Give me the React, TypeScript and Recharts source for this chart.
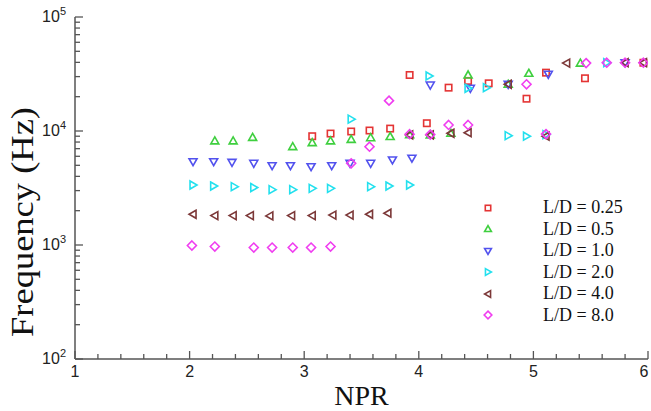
import React from 'react'
import { ScatterChart, Scatter, XAxis, YAxis, Legend, Label } from 'recharts'

// NPR positions and frequencies (Hz), one pair of arrays per L/D
const ld025Npr = [3.07, 3.23, 3.41, 3.57, 3.75, 3.92, 4.07, 4.26, 4.43, 4.61, 4.94, 5.11, 5.45, 5.96]
const ld025Freq = [9000, 9500, 9900, 10100, 10500, 31000, 11700, 24000, 27500, 26200, 19200, 32500, 29000, 39700]

const ld05Npr = [2.22, 2.38, 2.55, 2.9, 3.07, 3.23, 3.41, 3.58, 3.75, 3.92, 4.1, 4.28, 4.43, 4.78, 4.96, 5.41]
const ld05Freq = [8200, 8200, 8800, 7300, 7900, 8200, 8450, 8730, 8950, 9300, 9230, 9550, 31000, 25700, 32100, 39400]

const ld1Npr = [2.03, 2.21, 2.37, 2.56, 2.72, 2.88, 3.06, 3.24, 3.4, 3.58, 3.77, 3.94, 4.1, 4.45, 4.78, 5.13, 5.8]
const ld1Freq = [5380, 5380, 5310, 5210, 4960, 4960, 4860, 4960, 5210, 5210, 5570, 5770, 25300, 23700, 25700, 31450, 39700]

const ld2Npr = [2.03, 2.21, 2.39, 2.56, 2.72, 2.9, 3.07, 3.23, 3.41, 3.58, 3.74, 3.92, 4.09, 4.43, 4.59, 4.78, 4.94, 5.11, 5.64]
const ld2Freq = [3360, 3290, 3250, 3190, 3060, 3060, 3140, 3140, 12700, 3250, 3290, 3360, 30400, 23700, 24000, 9100, 9000, 9300, 39700]

const ld4Npr = [2.03, 2.22, 2.38, 2.53, 2.7, 2.89, 3.07, 3.25, 3.4, 3.57, 3.73, 3.92, 4.1, 4.28, 4.43, 4.78, 5.11, 5.29, 5.8, 5.96]
const ld4Freq = [1860, 1810, 1810, 1810, 1800, 1810, 1810, 1830, 1830, 1860, 1900, 9230, 9230, 9550, 9660, 25700, 9000, 39400, 39700, 39700]

const ld8Npr = [2.02, 2.22, 2.56, 2.72, 2.9, 3.06, 3.23, 3.41, 3.57, 3.74, 3.92, 4.1, 4.26, 4.43, 4.94, 5.11, 5.46, 5.64, 5.8, 5.96]
const ld8Freq = [990, 970, 950, 950, 950, 950, 970, 5210, 7280, 18450, 9370, 9300, 11300, 11300, 25700, 9400, 39400, 39700, 39700, 39700]

const nprTicks = [
  1, 1.2, 1.4, 1.6, 1.8, 2, 2.2, 2.4, 2.6, 2.8, 3, 3.2, 3.4, 3.6, 3.8, 4, 4.2, 4.4, 4.6, 4.8, 5,
  5.2, 5.4, 5.6, 5.8, 6,
]
const freqTicks = [
  100, 200, 300, 400, 500, 600, 700, 800, 900, 1000, 2000, 3000, 4000, 5000, 6000, 7000, 8000, 9000,
  10000, 20000, 30000, 40000, 50000, 60000, 70000, 80000, 90000, 100000,
]

type Kind = 'square' | 'up' | 'down' | 'right' | 'left' | 'diamond'

const series: { name: string; npr: number[]; freq: number[]; kind: Kind; color: string }[] = [
  { name: 'L/D = 0.25', npr: ld025Npr, freq: ld025Freq, kind: 'square', color: '#e43434' },
  { name: 'L/D = 0.5', npr: ld05Npr, freq: ld05Freq, kind: 'up', color: '#3fcf3f' },
  { name: 'L/D = 1.0', npr: ld1Npr, freq: ld1Freq, kind: 'down', color: '#5252ee' },
  { name: 'L/D = 2.0', npr: ld2Npr, freq: ld2Freq, kind: 'right', color: '#22e0ee' },
  { name: 'L/D = 4.0', npr: ld4Npr, freq: ld4Freq, kind: 'left', color: '#7c3838' },
  { name: 'L/D = 8.0', npr: ld8Npr, freq: ld8Freq, kind: 'diamond', color: '#f03ef0' },
]

const AXIS = '#555'
const SANS = '"Liberation Sans", Arial, sans-serif'
const SERIF = '"Liberation Serif", "Times New Roman", serif'

function marker(kind: Kind, color: string, cx: number, cy: number, s = 1) {
  const common = { fill: 'none', stroke: color, strokeWidth: 1.6 }
  const p = (pts: number[][]) => pts.map(([a, b]) => `${cx + a * s},${cy + b * s}`).join(' ')
  switch (kind) {
    case 'square':
      return <rect x={cx - 3.2 * s} y={cy - 3.2 * s} width={6.4 * s} height={6.4 * s} {...common} />
    case 'up':
      return <polygon points={p([[0, -4], [4, 3], [-4, 3]])} {...common} />
    case 'down':
      return <polygon points={p([[-4, -3], [4, -3], [0, 4]])} {...common} />
    case 'right':
      return <polygon points={p([[-3, -4], [4, 0], [-3, 4]])} {...common} />
    case 'left':
      return <polygon points={p([[3, -4], [-4, 0], [3, 4]])} {...common} />
    default:
      return <polygon points={p([[0, -4.5], [4.5, 0], [0, 4.5], [-4.5, 0]])} {...common} />
  }
}

function XTick({ x, y, payload }: any) {
  const v = payload.value
  const major = Math.abs(v - Math.round(v)) < 1e-6
  return (
    <g>
      <line x1={x} x2={x} y1={y} y2={y - (major ? 8 : 5)} stroke={AXIS} strokeWidth={1.3} />
      {major && (
        <text x={v === 6 ? x - 4 : x} y={y + 18} textAnchor="middle" fontFamily={SANS} fontSize={16} fill="#222">
          {v}
        </text>
      )}
    </g>
  )
}

function YTick({ x, y, payload }: any) {
  const v = payload.value
  const exp = Math.log10(v)
  const major = Math.abs(exp - Math.round(exp)) < 1e-6
  return (
    <g>
      <line x1={x} x2={x + (major ? 8 : 5)} y1={y} y2={y} stroke={AXIS} strokeWidth={1.3} />
      {major && (
        <text x={x - 9} y={y + 5} textAnchor="end" fontFamily={SANS} fontSize={16} fill="#222">
          10
          <tspan dy={-7} fontSize={11}>
            {Math.round(exp)}
          </tspan>
        </text>
      )}
    </g>
  )
}

function LegendBox() {
  return (
    <div style={{ fontFamily: SERIF, fontSize: 18, color: '#111' }}>
      {series.map(s => (
        <div key={s.name} style={{ display: 'flex', alignItems: 'center', height: 21.5 }}>
          <svg width={20} height={20}>
            {marker(s.kind, s.color, 10, 10, 0.85)}
          </svg>
          <span style={{ marginLeft: 45, lineHeight: '21.5px' }}>{s.name}</span>
        </div>
      ))}
    </div>
  )
}

export default function App() {
  return (
    <div style={{ position: 'absolute', left: 0, top: 0, width: 651, height: 411, background: '#fff' }}>
      <ScatterChart width={651} height={411} margin={{ top: 17, right: 3, bottom: 0, left: 0 }}>
        <XAxis
          type="number"
          dataKey="npr"
          domain={[1, 6]}
          ticks={nprTicks}
          interval={0}
          allowDataOverflow
          tickLine={false}
          tickSize={0}
          tickMargin={0}
          tick={(p: any) => <XTick {...p} />}
          axisLine={{ stroke: AXIS, strokeWidth: 1.5 }}
          height={52}
        >
          <Label
            content={({ viewBox }: any) => (
              <text
                x={viewBox.x + viewBox.width / 2}
                y={viewBox.y + 46}
                textAnchor="middle"
                fontFamily={SERIF}
                fontSize={28}
                fill="#111"
              >
                NPR
              </text>
            )}
          />
        </XAxis>
        <YAxis
          type="number"
          dataKey="freq"
          scale="log"
          domain={[100, 100000]}
          ticks={freqTicks}
          interval={0}
          allowDataOverflow
          tickLine={false}
          tickSize={0}
          tickMargin={0}
          tick={(p: any) => <YTick {...p} />}
          axisLine={{ stroke: AXIS, strokeWidth: 1.5 }}
          width={75}
        >
          <Label
            content={({ viewBox }: any) => {
              const cx = viewBox.x + 22
              const cy = viewBox.y + viewBox.height / 2 + 34
              return (
                <text
                  x={cx}
                  y={cy}
                  transform={`rotate(-90 ${cx} ${cy})`}
                  textAnchor="middle"
                  dominantBaseline="central"
                  fontFamily={SERIF}
                  fontSize={31}
                  textLength={230}
                  lengthAdjust="spacingAndGlyphs"
                  fill="#111"
                >
                  Frequency (Hz)
                </text>
              )
            }}
          />
        </YAxis>
        <Legend
          layout="vertical"
          align="center"
          verticalAlign="middle"
          content={() => <LegendBox />}
          wrapperStyle={{ position: 'absolute', left: 478, top: 197, width: 170, height: 130 }}
        />
        {series.map(s => (
          <Scatter
            key={s.name}
            name={s.name}
            data={s.npr.map((n, i) => ({ npr: n, freq: s.freq[i] }))}
            isAnimationActive={false}
            shape={(p: any) => marker(s.kind, s.color, p.cx, p.cy)}
          />
        ))}
      </ScatterChart>
    </div>
  )
}
